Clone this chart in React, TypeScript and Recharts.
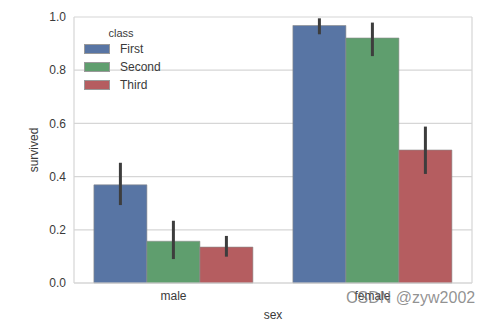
import React from 'react';
import { BarChart, Bar, XAxis, YAxis, CartesianGrid, ErrorBar } from 'recharts';

const sexes = ['male', 'female'];
const classes = ['First', 'Second', 'Third'];

const firstMean = [0.369, 0.968];
const secondMean = [0.157, 0.921];
const thirdMean = [0.135, 0.5];

// bootstrap CI bounds
const firstLow = [0.293, 0.935];
const firstHigh = [0.452, 0.995];
const secondLow = [0.09, 0.853];
const secondHigh = [0.234, 0.979];
const thirdLow = [0.099, 0.41];
const thirdHigh = [0.177, 0.588];

const yTicks = [0, 0.2, 0.4, 0.6, 0.8, 1.0];

const COLORS = ['#5875a4', '#5f9e6e', '#b55d60'];
const FONT = '"Liberation Sans", Arial, sans-serif';
const TEXT = '#3a3a3a';
const GRID = '#d6d6d6';

const data = sexes.map((sex, i) => ({
  sex,
  First: firstMean[i],
  Second: secondMean[i],
  Third: thirdMean[i],
  FirstErr: [firstMean[i] - firstLow[i], firstHigh[i] - firstMean[i]],
  SecondErr: [secondMean[i] - secondLow[i], secondHigh[i] - secondMean[i]],
  ThirdErr: [thirdMean[i] - thirdLow[i], thirdHigh[i] - thirdMean[i]],
}));

const LegendBox = () => (
  <div style={{ position: 'absolute', left: 84, top: 26, fontFamily: FONT, color: TEXT, width: 90 }}>
    <div style={{ fontSize: 11, width: 74, textAlign: 'center', lineHeight: '14px' }}>class</div>
    {classes.map((c, i) => (
      <div key={c} style={{ display: 'flex', alignItems: 'center', height: 18, fontSize: 12 }}>
        <span
          style={{
            display: 'inline-block',
            width: 24,
            height: 8,
            background: COLORS[i],
            border: '0.5px solid #999',
            marginRight: 10,
          }}
        />
        {c}
      </div>
    ))}
  </div>
);

export default function App() {
  return (
    <div style={{ position: 'fixed', left: 0, top: 0, width: 495, height: 321, background: '#fff' }}>
      <BarChart
        width={495}
        height={321}
        data={data}
        margin={{ top: 17, right: 22, left: 0, bottom: 0 }}
        barCategoryGap="10%"
        barGap={0}
      >
        <CartesianGrid horizontal vertical={false} stroke={GRID} strokeWidth={1.2} />
        <XAxis
          dataKey="sex"
          height={38}
          tickLine={false}
          axisLine={{ stroke: GRID, strokeWidth: 1.2 }}
          tick={{ fill: TEXT, fontSize: 12, fontFamily: FONT }}
          label={{ value: 'sex', position: 'insideBottom', offset: 2, fill: TEXT, fontSize: 12, fontFamily: FONT }}
        />
        <YAxis
          width={74}
          domain={[0, 1]}
          ticks={yTicks}
          tickFormatter={(v: number) => v.toFixed(1)}
          tickLine={false}
          axisLine={{ stroke: GRID, strokeWidth: 1.2 }}
          tick={{ fill: TEXT, fontSize: 12, fontFamily: FONT }}
          label={{ value: 'survived', angle: -90, position: 'center', dx: -3, fill: TEXT, fontSize: 12, fontFamily: FONT }}
        />
        <YAxis
          yAxisId="right"
          orientation="right"
          width={1}
          domain={[0, 1]}
          tick={false}
          tickLine={false}
          axisLine={{ stroke: GRID, strokeWidth: 1.2 }}
        />
        {classes.map((c, i) => (
          <Bar
            key={c}
            dataKey={c}
            fill={COLORS[i]}
            stroke="#8a8a8a"
            strokeWidth={0.6}
            isAnimationActive={false}
          >
            <ErrorBar dataKey={`${c}Err`} width={0} stroke="#3d3d3d" strokeWidth={3} />
          </Bar>
        ))}
      </BarChart>
      <LegendBox />
      <div
        style={{
          position: 'absolute',
          left: 346,
          top: 289,
          fontFamily: FONT,
          fontSize: 16,
          color: 'rgba(110,110,110,0.75)',
          whiteSpace: 'nowrap',
        }}
      >
        CSDN @zyw2002
      </div>
    </div>
  );
}
